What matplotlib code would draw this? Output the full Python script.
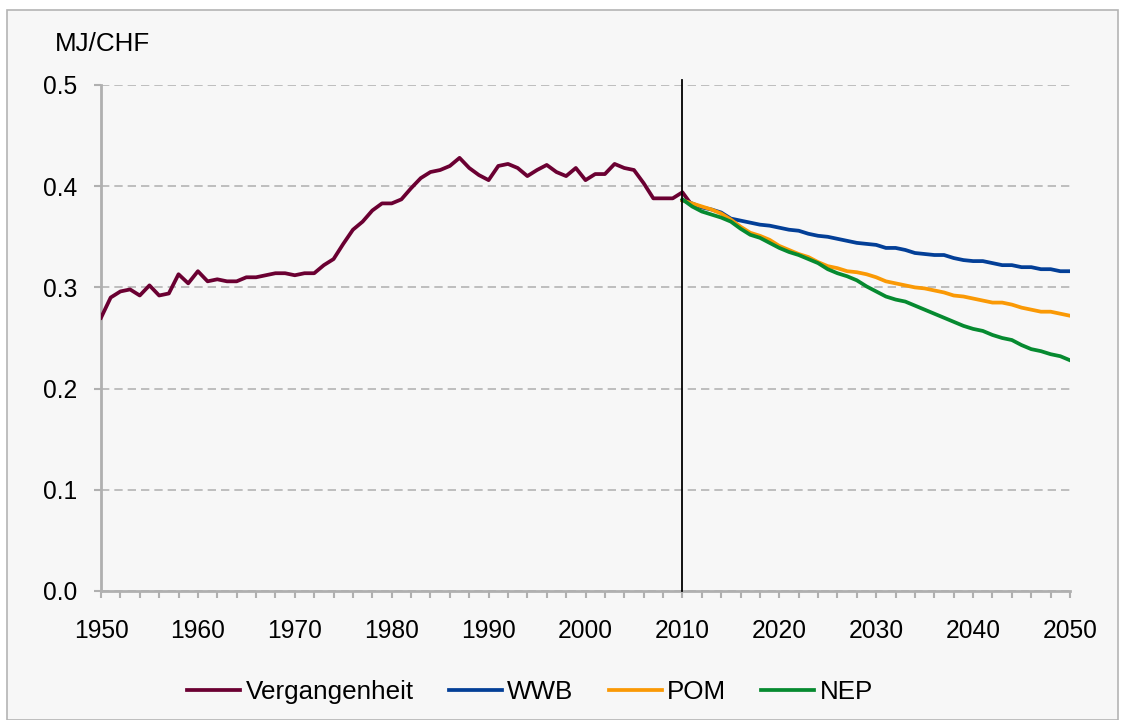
import numpy as np
import matplotlib
matplotlib.use("Agg")
import matplotlib.pyplot as plt
from matplotlib.ticker import MultipleLocator
from matplotlib.patches import Rectangle

plt.rcParams['font.family'] = ['Liberation Sans', 'DejaVu Sans']

# historical data 1950-2011
hist_years = list(range(1950, 2012))
hist_vals = [0.270, 0.290, 0.296, 0.298, 0.292, 0.302, 0.292, 0.294, 0.313, 0.304,
             0.316, 0.306, 0.308, 0.306, 0.306, 0.310, 0.310, 0.312, 0.314, 0.314,
             0.312, 0.314, 0.314, 0.322, 0.328, 0.343, 0.357, 0.365, 0.376, 0.383,
             0.383, 0.387, 0.398, 0.408, 0.414, 0.416, 0.420, 0.428, 0.418, 0.411,
             0.406, 0.420, 0.422, 0.418, 0.410, 0.416, 0.421, 0.414, 0.410, 0.418,
             0.406, 0.412, 0.412, 0.422, 0.418, 0.416, 0.403, 0.388, 0.388, 0.388,
             0.394, 0.381]

# scenarios 2010-2050
scen_years = list(range(2010, 2051))
wwb = [0.386, 0.383, 0.379, 0.377, 0.374, 0.368, 0.366, 0.364, 0.362, 0.361,
       0.359, 0.357, 0.356, 0.353, 0.351, 0.350, 0.348, 0.346, 0.344, 0.343,
       0.342, 0.339, 0.339, 0.337, 0.334, 0.333, 0.332, 0.332, 0.329, 0.327,
       0.326, 0.326, 0.324, 0.322, 0.322, 0.320, 0.320, 0.318, 0.318, 0.316,
       0.316]
pom = [0.386, 0.383, 0.380, 0.377, 0.373, 0.367, 0.360, 0.354, 0.351, 0.347,
       0.341, 0.337, 0.333, 0.330, 0.325, 0.321, 0.319, 0.316, 0.315, 0.313,
       0.310, 0.306, 0.304, 0.302, 0.300, 0.299, 0.297, 0.295, 0.292, 0.291,
       0.289, 0.287, 0.285, 0.285, 0.283, 0.280, 0.278, 0.276, 0.276, 0.274,
       0.272]
nep = [0.387, 0.380, 0.375, 0.372, 0.369, 0.365, 0.358, 0.352, 0.349, 0.344,
       0.339, 0.335, 0.332, 0.328, 0.324, 0.318, 0.314, 0.311, 0.307, 0.301,
       0.296, 0.291, 0.288, 0.286, 0.282, 0.278, 0.274, 0.270, 0.266, 0.262,
       0.259, 0.257, 0.253, 0.250, 0.248, 0.243, 0.239, 0.237, 0.234, 0.232,
       0.228]

fig = plt.figure(figsize=(11.25, 7.2), dpi=100)
fig.patch.set_facecolor('white')
border = Rectangle((7/1125, 0.0), 1111/1125, 710/720, transform=fig.transFigure,
                   facecolor='#f7f7f7', edgecolor='#b4b4b4', linewidth=1.2, zorder=-10)
fig.add_artist(border)

ax = fig.add_axes([101/1125, 1-591/720, 969/1125, 506/720])
ax.set_zorder(5)
ax.patch.set_alpha(0)

ax.plot(hist_years, hist_vals, color='#6b0032', lw=2.7, label='Vergangenheit', zorder=3)
ax.plot(scen_years, wwb, color='#033f97', lw=2.7, label='WWB', zorder=4)
ax.plot(scen_years, pom, color='#fa9905', lw=2.7, label='POM', zorder=5)
ax.plot(scen_years, nep, color='#068a30', lw=2.7, label='NEP', zorder=6)

ax.axvline(2010, ymin=0, ymax=1.01, color='black', lw=1.3, zorder=7, clip_on=False)

ax.set_xlim(1950, 2050)
ax.set_ylim(0, 0.5)
ax.xaxis.set_major_locator(MultipleLocator(10))
ax.xaxis.set_minor_locator(MultipleLocator(2))
ax.yaxis.set_major_locator(MultipleLocator(0.1))
ax.yaxis.set_major_formatter(plt.FuncFormatter(lambda v, p: f"{v:.1f}"))

ax.grid(axis='y', color='#b4b4b4', linestyle=(0, (5, 3)), lw=1.2)
for s in ['top', 'right']:
    ax.spines[s].set_visible(False)
for s in ['left', 'bottom']:
    ax.spines[s].set_color('#b0b0b0')
    ax.spines[s].set_linewidth(2)

ax.tick_params(axis='both', which='both', color='#b0b0b0', width=1.5, labelsize=17.7)
ax.tick_params(axis='x', which='both', length=5, pad=15)
ax.tick_params(axis='y', which='major', length=5, pad=12)

fig.text(55/1125, 1-44/720, 'MJ/CHF', fontsize=18.7, va='center', ha='left')

ax.legend(loc='center', bbox_to_anchor=((530-101)/969, (1-692/720 - (1-591/720)) / (506/720)),
          ncol=4, frameon=False, fontsize=18.7, handlelength=2.05, handletextpad=0.2,
          columnspacing=1.35)

fig.savefig('out.png', dpi=100, facecolor='white')
